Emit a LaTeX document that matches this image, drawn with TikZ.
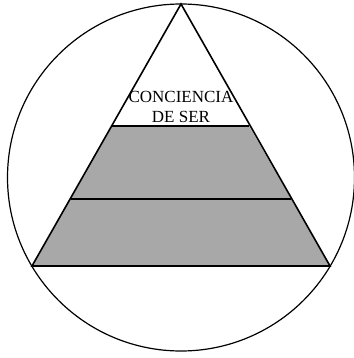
\documentclass[tikz,border=0pt]{standalone}
\usepackage{fontspec}
\setmainfont{Liberation Serif}

\begin{document}
\begin{tikzpicture}[x = 1pt, y = -1pt]
\useasboundingbox (0,0) rectangle (353,358);
\draw [line width = 1.2pt] (181,177.5) circle [radius = 173.5];
\fill [fill = black!34] (112,126) -- (249,126) -- (330,266) -- (32,266) -- cycle;
\draw [line width = 1.6pt, line join = miter] (181,4) -- (330,266) -- (32,266) -- cycle;
\draw [line width = 1.6pt] (112,126) -- (249,126);
\draw [line width = 1.6pt] (71,199) -- (291,199);
\node (conc) at (181,103) [anchor = base, inner sep = 0pt] {\fontsize{17}{18}\selectfont CONCIENCIA};
\node (ser) at (181,123) [anchor = base, inner sep = 0pt] {\fontsize{17}{18}\selectfont DE SER};
\end{tikzpicture}
\end{document}
